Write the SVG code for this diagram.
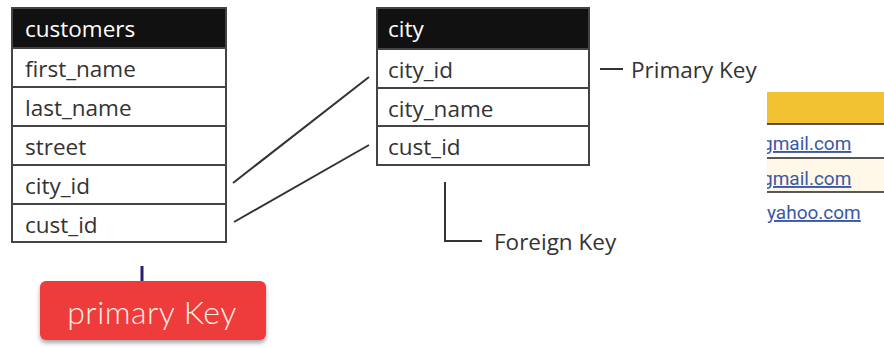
<svg xmlns="http://www.w3.org/2000/svg" width="884" height="347" viewBox="0 0 884 347">
  <defs>
    <style>
      .hdr { fill: #111; }
      .cell { fill: #fff; stroke: #444; stroke-width: 2; }
      .tbl { fill: none; stroke: #444; stroke-width: 2; }
      .ht { font-family: "Open Sans", "Noto Sans", sans-serif; font-size: 22.5px; fill: #fff; }
      .rt { font-family: "Open Sans", "Noto Sans", sans-serif; font-size: 22.5px; fill: #333; }
      .lbl { font-family: "Open Sans", "Noto Sans", sans-serif; font-size: 22.5px; fill: #333; }
      .lnk { stroke: #333; stroke-width: 2; fill: none; }
      .mail { font-family: Roboto, "Liberation Sans", sans-serif; font-size: 19px; fill: #3b58a6; text-decoration: underline; }
    </style>
    <clipPath id="emailClip">
      <rect x="767" y="85" width="117" height="150"/>
    </clipPath>
    <filter id="shadow" x="-10%" y="-20%" width="120%" height="150%">
      <feDropShadow dx="0" dy="3" stdDeviation="2" flood-color="#000" flood-opacity="0.35"/>
    </filter>
  </defs>

  <rect width="884" height="347" fill="#fff"/>

  <!-- customers table -->
  <g id="customers">
    <rect class="hdr" x="12" y="8" width="214" height="40"/>
    <text class="ht" x="25" y="37">customers</text>
    <rect class="cell" x="12" y="48" width="214" height="39"/>
    <text class="rt" x="25" y="77">first_name</text>
    <rect class="cell" x="12" y="87" width="214" height="39"/>
    <text class="rt" x="25" y="116">last_name</text>
    <rect class="cell" x="12" y="126" width="214" height="39"/>
    <text class="rt" x="25" y="155">street</text>
    <rect class="cell" x="12" y="165" width="214" height="39"/>
    <text class="rt" x="25" y="194">city_id</text>
    <rect class="cell" x="12" y="204" width="214" height="38"/>
    <text class="rt" x="25" y="233">cust_id</text>
    <rect class="tbl" x="12" y="8" width="214" height="234"/>
  </g>

  <!-- city table -->
  <g id="city">
    <rect class="hdr" x="377" y="8" width="212" height="41"/>
    <text class="ht" x="388" y="37">city</text>
    <rect class="cell" x="377" y="49" width="212" height="39"/>
    <text class="rt" x="388" y="78">city_id</text>
    <rect class="cell" x="377" y="88" width="212" height="38"/>
    <text class="rt" x="388" y="117">city_name</text>
    <rect class="cell" x="377" y="126" width="212" height="39"/>
    <text class="rt" x="388" y="155">cust_id</text>
    <rect class="tbl" x="377" y="8" width="212" height="157"/>
  </g>

  <!-- relationship lines and key callouts -->
  <g id="connectors">
    <line class="lnk" x1="233" y1="183" x2="369" y2="77"/>
    <line class="lnk" x1="234" y1="222" x2="369" y2="145"/>
    <line class="lnk" x1="600" y1="69" x2="623" y2="69"/>
    <polyline class="lnk" points="445,182 445,241 482,241"/>
    <line x1="142" y1="266" x2="142" y2="293" stroke="#2b1d6b" stroke-width="3"/>
  </g>

  <g id="primary-key-label">
    <text class="lbl" x="631" y="78">Primary Key</text>
  </g>

  <g id="foreign-key-label">
    <text class="lbl" x="494" y="250">Foreign Key</text>
  </g>

  <!-- email table fragment -->
  <g id="emails" clip-path="url(#emailClip)">
    <rect x="767" y="92" width="117" height="32" fill="#f2c233"/>
    <rect x="767" y="124" width="117" height="34" fill="#fff"/>
    <rect x="767" y="158" width="117" height="34" fill="#fff8e8"/>
    <rect x="767" y="192" width="117" height="36" fill="#fff"/>
    <line x1="767" y1="124" x2="884" y2="124" stroke="#222" stroke-width="1.5"/>
    <line x1="767" y1="158" x2="884" y2="158" stroke="#222" stroke-width="1.5"/>
    <line x1="767" y1="192" x2="884" y2="192" stroke="#222" stroke-width="1.5"/>
    <text class="mail" x="762" y="150">gmail.com</text>
    <text class="mail" x="762" y="185">gmail.com</text>
    <text class="mail" x="767" y="219">yahoo.com</text>
  </g>

  <!-- badge -->
  <g id="primary-key-badge">
    <rect x="40" y="281" width="226" height="59" rx="6" fill="#ee3b3b" filter="url(#shadow)"/>
    <text x="152" y="324" text-anchor="middle" font-family="Lato, 'Open Sans', sans-serif" font-weight="300" font-size="32" fill="#fdf0e4" letter-spacing="0.5">primary Key</text>
  </g>
</svg>
